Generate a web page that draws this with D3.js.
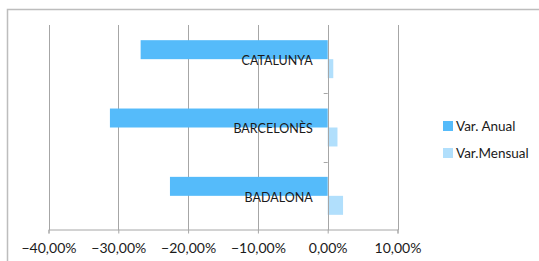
<!DOCTYPE html>
<html>
  <head>
    <meta charset="utf-8" />
    <style>
    body {
      margin: 0;
      background: #fff;
    }
    text {
      font-family: Lato, "Open Sans", sans-serif;
      fill: #1a1a1a;
    }
    </style>
  </head>
  <body>
    <div id="chart"></div>
    <script src="https://d3js.org/d3.v7.min.js"></script>
    <script>

var categories = ["CATALUNYA", "BARCELONÈS", "BADALONA"];
var seriesNames = ["Var. Anual", "Var.Mensual"];
var varAnual = [-0.268, -0.312, -0.226];
var varMensual = [0.008, 0.014, 0.022];
var xTicks = [-0.4, -0.3, -0.2, -0.1, 0, 0.1];
var colours = ["#55bbfa", "#b1dffc"];

var width = 539, height = 261;

var svg = d3.select("#chart").append("svg")
    .attr("width", width)
    .attr("height", height);

// outer chart border
svg.append("rect")
    .attr("x", 7.5)
    .attr("y", 9.5)
    .attr("width", 560)
    .attr("height", 280)
    .style("fill", "none")
    .style("stroke", "#bdbdbd")
    .style("stroke-width", 1.5);

var x = d3.scaleLinear()
    .domain([-0.4, 0.1])
    .range([48.5, 397.5]);

var y = d3.scaleBand()
    .domain(categories)
    .range([25, 230]);

var fmt = function(d) {
  return d3.format(".2f")(d * 100).replace(".", ",") + "%";
};

// vertical gridlines
svg.append("g")
  .selectAll("line")
  .data(xTicks)
  .enter().append("line")
    .attr("x1", function(d) { return Math.round(x(d)) + 0.5; })
    .attr("x2", function(d) { return Math.round(x(d)) + 0.5; })
    .attr("y1", y.range()[0])
    .attr("y2", y.range()[1])
    .style("stroke", "#a6a6a6")
    .style("stroke-width", 1);

// bottom axis
var xAxis = svg.append("g")
    .attr("transform", "translate(0," + (y.range()[1] - 0.5) + ")")
    .call(d3.axisBottom(x).tickValues(xTicks).tickFormat(fmt).tickSizeOuter(0).tickSize(4).tickPadding(10));

xAxis.select(".domain").style("stroke", "#a6a6a6");
xAxis.selectAll(".tick line").style("stroke", "#a6a6a6");
xAxis.selectAll(".tick text")
    .style("font-family", "Lato, sans-serif")
    .style("font-size", "14px")
    .style("fill", "#1a1a1a");

// category tick marks at 0
svg.append("g")
  .selectAll("line")
  .data(categories.slice(1))
  .enter().append("line")
    .attr("x1", x(0) - 4)
    .attr("x2", x(0))
    .attr("y1", function(d) { return Math.round(y(d)) + 0.5; })
    .attr("y2", function(d) { return Math.round(y(d)) + 0.5; })
    .style("stroke", "#a6a6a6");

var inner = d3.scaleBand()
    .domain(seriesNames)
    .range([0, y.bandwidth()])
    .paddingInner(0)
    .paddingOuter(0.8);

var rows = categories.map(function(c, i) {
  return {cat: c, values: [varAnual[i], varMensual[i]]};
});

var groups = svg.append("g")
  .selectAll("g")
  .data(rows)
  .enter().append("g")
    .attr("transform", function(d) { return "translate(0," + y(d.cat) + ")"; });

groups.selectAll("rect")
  .data(function(d) { return d.values.map(function(v, j) { return {name: seriesNames[j], value: v}; }); })
  .enter().append("rect")
    .attr("x", function(d) { return x(Math.min(0, d.value)); })
    .attr("width", function(d) { return Math.abs(x(d.value) - x(0)); })
    .attr("y", function(d) { return inner(d.name); })
    .attr("height", inner.bandwidth())
    .style("fill", function(d, j) { return colours[j]; });

// zero axis line
svg.append("line")
    .attr("x1", Math.round(x(0)) + 0.5)
    .attr("x2", Math.round(x(0)) + 0.5)
    .attr("y1", y.range()[0])
    .attr("y2", y.range()[1])
    .style("stroke", "#a6a6a6");

// category labels
groups.append("text")
    .attr("x", x(0) - 15)
    .attr("y", y.bandwidth() / 2 + 6)
    .attr("text-anchor", "end")
    .style("font-size", "12.5px")
    .text(function(d) { return d.cat; });

// legend
var legend = svg.append("g")
  .selectAll("g")
  .data(seriesNames)
  .enter().append("g")
    .attr("transform", function(d, i) { return "translate(443," + (121 + i * 27) + ")"; });

legend.append("rect")
    .attr("width", 10)
    .attr("height", 10)
    .style("fill", function(d, i) { return colours[i]; });

legend.append("text")
    .attr("x", 13)
    .attr("y", 9.5)
    .style("font-size", "13.5px")
    .text(function(d) { return d; });

    </script>
  </body>
</html>
